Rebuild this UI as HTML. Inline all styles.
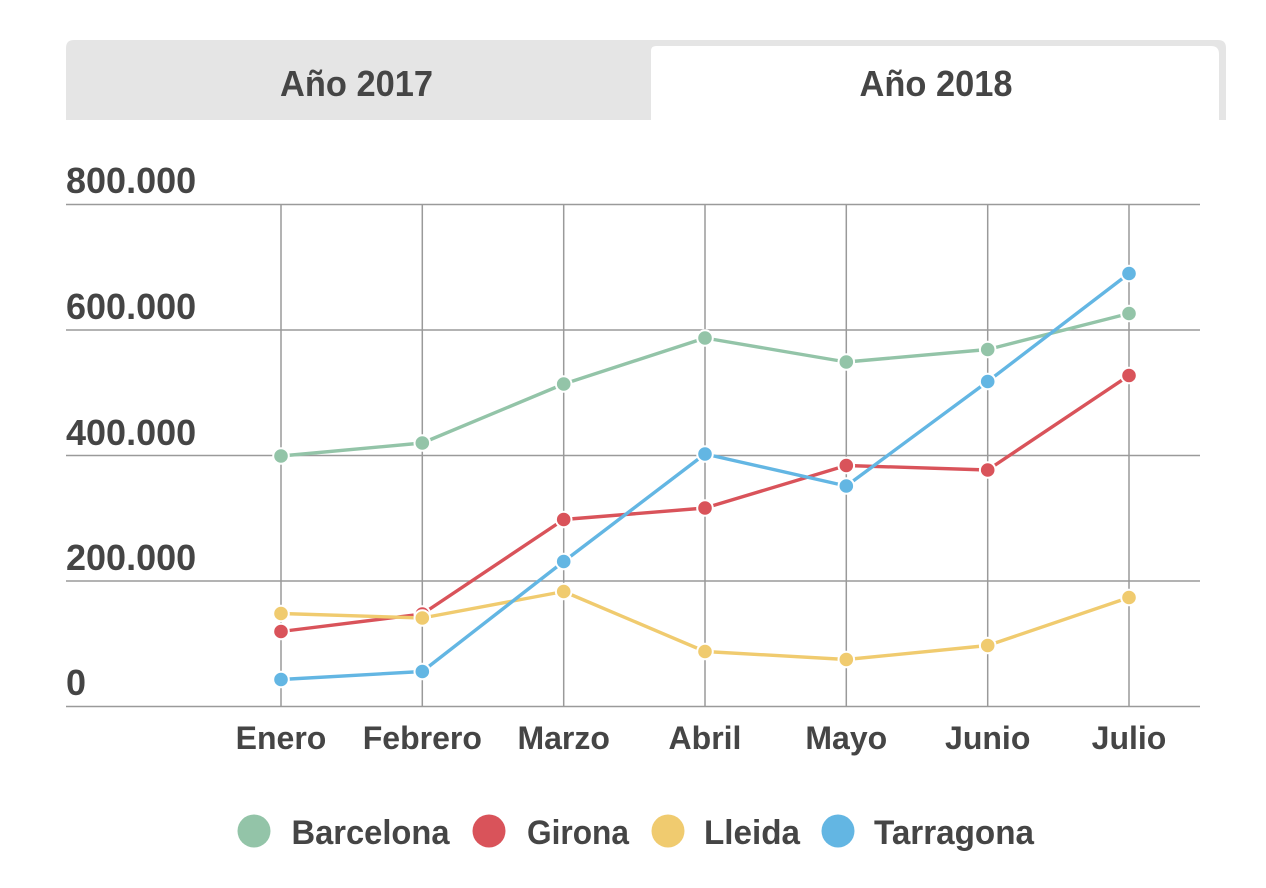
<!DOCTYPE html>
<html>
<head>
<meta charset="utf-8">
<style>
  html, body { margin:0; padding:0; background:#ffffff; }
  body { width:1266px; height:888px; overflow:hidden; }
  svg { display:block; }
  text { font-family:"Liberation Sans", Arial, sans-serif; fill:#454545; }
</style>
</head>
<body>
<svg width="1266" height="888" viewBox="0 0 1266 888" xmlns="http://www.w3.org/2000/svg">
  <!-- Tabs -->
  <path d="M66,120 L66,48 Q66,40 74,40 L1218,40 Q1226,40 1226,48 L1226,120 Z" fill="#e5e5e5"/>
  <path d="M651,120 L651,51 Q651,46 656,46 L1211,46 Q1219,46 1219,54 L1219,120 Z" fill="#ffffff"/>
  <text x="356.5" y="96" font-size="36" font-weight="bold" text-anchor="middle" textLength="153" lengthAdjust="spacingAndGlyphs">Año 2017</text>
  <text x="936" y="96" font-size="36" font-weight="bold" text-anchor="middle" textLength="153" lengthAdjust="spacingAndGlyphs">Año 2018</text>

  <!-- Grid -->
  <g stroke="#9a9a9a" stroke-width="1.5" fill="none">
    <line x1="66" y1="204.5" x2="1200" y2="204.5"/>
    <line x1="66" y1="330" x2="1200" y2="330"/>
    <line x1="66" y1="455.5" x2="1200" y2="455.5"/>
    <line x1="66" y1="581" x2="1200" y2="581"/>
    <line x1="66" y1="706.5" x2="1200" y2="706.5"/>
    <line x1="281" y1="204.5" x2="281" y2="706.5"/>
    <line x1="422.3" y1="204.5" x2="422.3" y2="706.5"/>
    <line x1="563.7" y1="204.5" x2="563.7" y2="706.5"/>
    <line x1="705" y1="204.5" x2="705" y2="706.5"/>
    <line x1="846.3" y1="204.5" x2="846.3" y2="706.5"/>
    <line x1="987.7" y1="204.5" x2="987.7" y2="706.5"/>
    <line x1="1129" y1="204.5" x2="1129" y2="706.5"/>
  </g>

  <!-- Y labels -->
  <g font-size="36" font-weight="bold">
    <text x="66" y="193">800.000</text>
    <text x="66" y="319">600.000</text>
    <text x="66" y="445">400.000</text>
    <text x="66" y="570">200.000</text>
    <text x="66" y="695">0</text>
  </g>

  <!-- X labels -->
  <g font-size="32" font-weight="bold" text-anchor="middle">
    <text x="281" y="749">Enero</text>
    <text x="422.3" y="749">Febrero</text>
    <text x="563.7" y="749">Marzo</text>
    <text x="705" y="749">Abril</text>
    <text x="846.3" y="749">Mayo</text>
    <text x="987.7" y="749">Junio</text>
    <text x="1129" y="749">Julio</text>
  </g>

  <!-- Barcelona -->
  <polyline fill="none" stroke="#93c4a8" stroke-width="3.4" stroke-linejoin="round"
    points="281,456 422.3,443 563.7,384 705,338 846.3,362 987.7,349.5 1129,313.5"/>
  <g fill="#93c4a8" stroke="#ffffff" stroke-width="2">
    <circle cx="281" cy="456" r="7.8"/><circle cx="422.3" cy="443" r="7.8"/><circle cx="563.7" cy="384" r="7.8"/>
    <circle cx="705" cy="338" r="7.8"/><circle cx="846.3" cy="362" r="7.8"/><circle cx="987.7" cy="349.5" r="7.8"/>
    <circle cx="1129" cy="313.5" r="7.8"/>
  </g>

  <!-- Girona -->
  <polyline fill="none" stroke="#d9535a" stroke-width="3.4" stroke-linejoin="round"
    points="281,631.5 422.3,614 563.7,519.5 705,508 846.3,465.5 987.7,470 1129,375.5"/>
  <g fill="#d9535a" stroke="#ffffff" stroke-width="2">
    <circle cx="281" cy="631.5" r="7.8"/><circle cx="422.3" cy="614" r="7.8"/><circle cx="563.7" cy="519.5" r="7.8"/>
    <circle cx="705" cy="508" r="7.8"/><circle cx="846.3" cy="465.5" r="7.8"/><circle cx="987.7" cy="470" r="7.8"/>
    <circle cx="1129" cy="375.5" r="7.8"/>
  </g>

  <!-- Lleida -->
  <polyline fill="none" stroke="#f0cb6f" stroke-width="3.4" stroke-linejoin="round"
    points="281,613.5 422.3,618 563.7,591.5 705,651.5 846.3,659.5 987.7,645.5 1129,597.5"/>
  <g fill="#f0cb6f" stroke="#ffffff" stroke-width="2">
    <circle cx="281" cy="613.5" r="7.8"/><circle cx="422.3" cy="618" r="7.8"/><circle cx="563.7" cy="591.5" r="7.8"/>
    <circle cx="705" cy="651.5" r="7.8"/><circle cx="846.3" cy="659.5" r="7.8"/><circle cx="987.7" cy="645.5" r="7.8"/>
    <circle cx="1129" cy="597.5" r="7.8"/>
  </g>

  <!-- Tarragona -->
  <polyline fill="none" stroke="#63b6e3" stroke-width="3.4" stroke-linejoin="round"
    points="281,679.5 422.3,671.5 563.7,561.5 705,454 846.3,486 987.7,381.5 1129,273.5"/>
  <g fill="#63b6e3" stroke="#ffffff" stroke-width="2">
    <circle cx="281" cy="679.5" r="7.8"/><circle cx="422.3" cy="671.5" r="7.8"/><circle cx="563.7" cy="561.5" r="7.8"/>
    <circle cx="705" cy="454" r="7.8"/><circle cx="846.3" cy="486" r="7.8"/><circle cx="987.7" cy="381.5" r="7.8"/>
    <circle cx="1129" cy="273.5" r="7.8"/>
  </g>

  <!-- Legend -->
  <circle cx="254" cy="831" r="16.5" fill="#93c4a8"/>
  <text x="291.5" y="844" font-size="34" font-weight="bold" textLength="158" lengthAdjust="spacingAndGlyphs">Barcelona</text>
  <circle cx="489" cy="831" r="16.5" fill="#d9535a"/>
  <text x="527" y="844" font-size="34" font-weight="bold" textLength="102" lengthAdjust="spacingAndGlyphs">Girona</text>
  <circle cx="668" cy="831" r="16.5" fill="#f0cb6f"/>
  <text x="704" y="844" font-size="34" font-weight="bold" textLength="96" lengthAdjust="spacingAndGlyphs">Lleida</text>
  <circle cx="838" cy="831" r="16.5" fill="#63b6e3"/>
  <text x="874" y="844" font-size="34" font-weight="bold" textLength="160" lengthAdjust="spacingAndGlyphs">Tarragona</text>
</svg>
</body>
</html>
